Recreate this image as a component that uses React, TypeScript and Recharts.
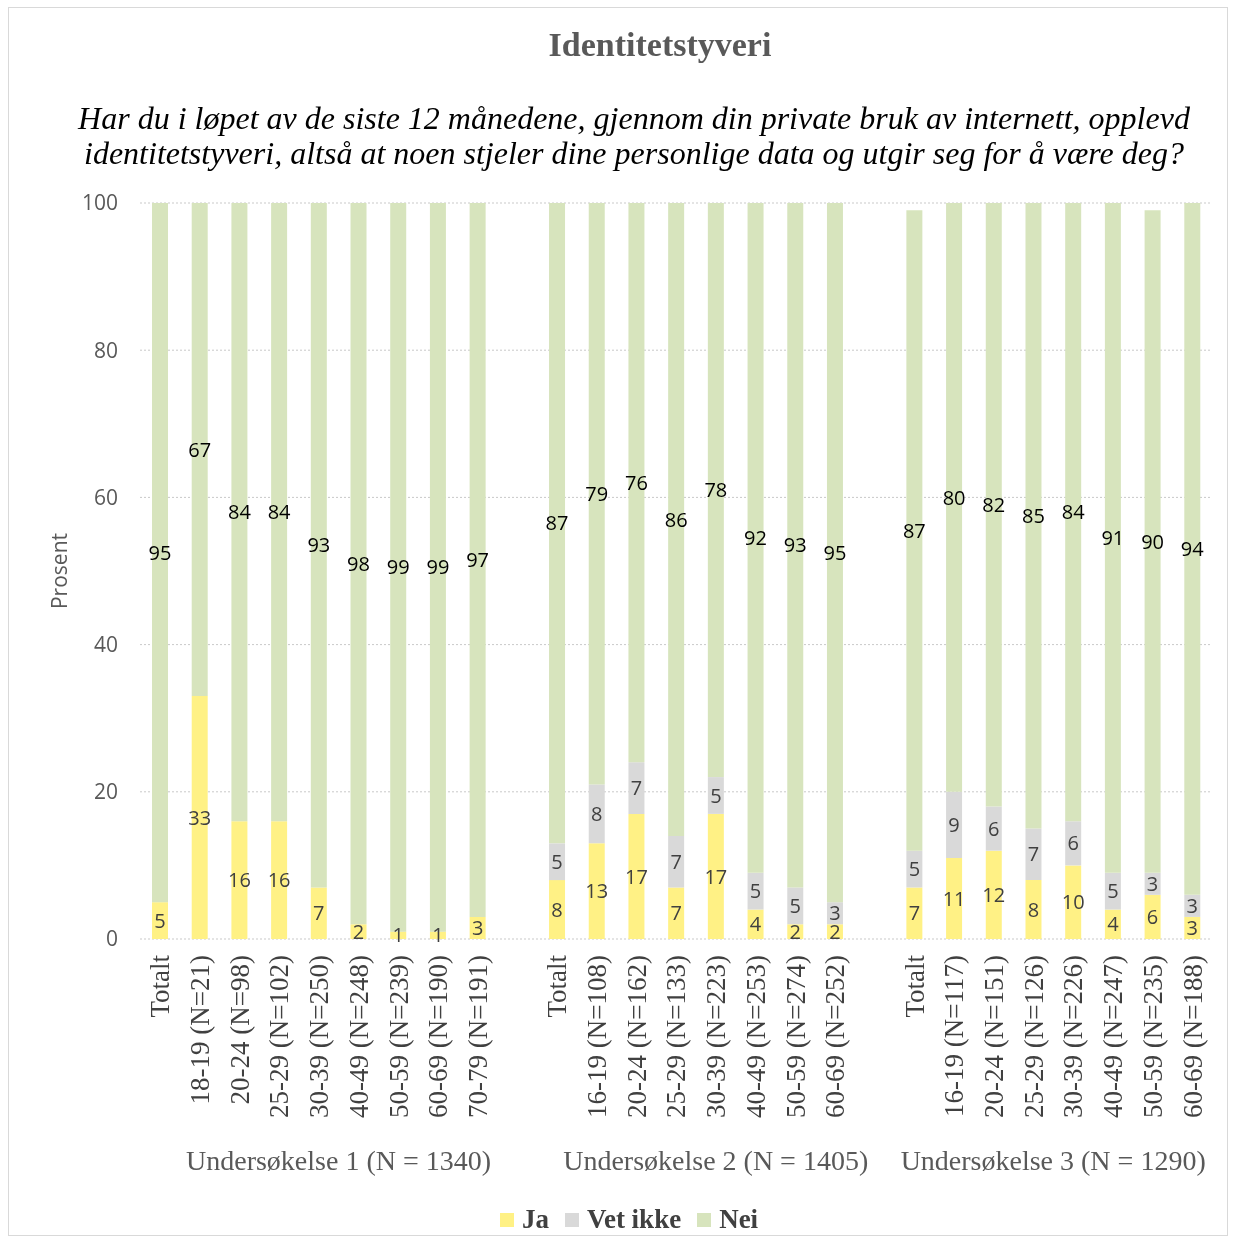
import React from 'react';
import { BarChart, Bar, XAxis, YAxis, CartesianGrid, LabelList, Legend } from 'recharts';

const categories = [
  'Totalt', '18-19 (N=21)', '20-24 (N=98)', '25-29 (N=102)', '30-39 (N=250)', '40-49 (N=248)', '50-59 (N=239)', '60-69 (N=190)', '70-79 (N=191)',
  '',
  'Totalt', '16-19 (N=108)', '20-24 (N=162)', '25-29 (N=133)', '30-39 (N=223)', '40-49 (N=253)', '50-59 (N=274)', '60-69 (N=252)',
  '',
  'Totalt', '16-19 (N=117)', '20-24 (N=151)', '25-29 (N=126)', '30-39 (N=226)', '40-49 (N=247)', '50-59 (N=235)', '60-69 (N=188)',
];

const jaValues = [5, 33, 16, 16, 7, 2, 1, 1, 3, null, 8, 13, 17, 7, 17, 4, 2, 2, null, 7, 11, 12, 8, 10, 4, 6, 3];
const vetIkkeValues = [null, null, null, null, null, null, null, null, null, null, 5, 8, 7, 7, 5, 5, 5, 3, null, 5, 9, 6, 7, 6, 5, 3, 3];
const neiValues = [95, 67, 84, 84, 93, 98, 99, 99, 97, null, 87, 79, 76, 86, 78, 92, 93, 95, null, 87, 80, 82, 85, 84, 91, 90, 94];

const seriesNames = ['Ja', 'Vet ikke', 'Nei'];

const groups = [
  { name: 'Undersøkelse 1 (N = 1340)', start: 0, span: 10 },
  { name: 'Undersøkelse 2 (N = 1405)', start: 10, span: 9 },
  { name: 'Undersøkelse 3 (N = 1290)', start: 19, span: 8 },
];

const yTicks = [0, 20, 40, 60, 80, 100];

const data = categories.map((c, i) => ({
  id: `c${i}`,
  label: c,
  Ja: jaValues[i],
  VetIkke: vetIkkeValues[i],
  Nei: neiValues[i],
}));

const W = 1237;
const H = 1239;
const X_AXIS_H = 300;
const M = { top: 203, right: 25, bottom: 0, left: 0 };
const Y_AXIS_W = 140;
const PLOT_W = W - M.left - M.right - Y_AXIS_W;
const STEP = PLOT_W / categories.length;

const SERIF = '"Liberation Serif", "DejaVu Serif", serif';
const SANS = '"Open Sans", "Noto Sans", sans-serif';

function XTick(props: any) {
  const { x, y, payload } = props;
  const i = payload?.index ?? props.index;
  const label = categories[i];
  const grp = groups.find((g) => g.start === i);
  return (
    <g>
      {label ? (
        <text
          transform={`translate(${x},${y}) rotate(-90)`}
          textAnchor="end"
          dy="0.35em"
          fontFamily={SERIF}
          fontSize={27}
          fill="#404040"
        >
          {label}
        </text>
      ) : null}
      {grp ? (
        <text
          x={x + ((grp.span - 1) / 2) * STEP}
          y={y + 205}
          textAnchor="middle"
          dominantBaseline="central"
          fontFamily={SERIF}
          fontSize={28}
          fill="#595959"
        >
          {grp.name}
        </text>
      ) : null}
    </g>
  );
}

const fmt = (v: any) => (v === null || v === undefined || v === 0 ? '' : v);

function LegendContent(props: any) {
  const payload = [...(props.payload || [])].sort(
    (a: any, b: any) => seriesNames.indexOf(a.value) - seriesNames.indexOf(b.value)
  );
  return (
    <div style={{ display: 'flex', justifyContent: 'center', alignItems: 'center', gap: 16 }}>
      {payload.map((p: any) => (
        <div key={p.value} style={{ display: 'flex', alignItems: 'center', gap: 8 }}>
          <span style={{ display: 'inline-block', width: 14, height: 14, background: p.color }} />
          <span style={{ fontFamily: SERIF, fontWeight: 'bold', fontSize: 27, color: '#404040' }}>{p.value}</span>
        </div>
      ))}
    </div>
  );
}

export default function App() {
  return (
    <div style={{ position: 'fixed', left: 0, top: 0, width: W, height: H, background: '#fff' }}>
      <div
        style={{
          position: 'absolute',
          left: 8,
          top: 7,
          width: 1220,
          height: 1229,
          border: '1px solid #d9d9d9',
          boxSizing: 'border-box',
        }}
      />
      <div
        style={{
          position: 'absolute',
          left: 0,
          width: 1320,
          top: 25,
          textAlign: 'center',
          fontFamily: SERIF,
          fontWeight: 'bold',
          fontSize: 34,
          color: '#595959',
          lineHeight: '40px',
        }}
      >
        Identitetstyveri
      </div>
      <div
        style={{
          position: 'absolute',
          left: 0,
          width: 1268,
          top: 101,
          textAlign: 'center',
          fontFamily: SERIF,
          fontStyle: 'italic',
          fontSize: 32,
          color: '#000',
          lineHeight: '35px',
        }}
      >
        Har du i løpet av de siste 12 månedene, gjennom din private bruk av internett, opplevd
        <br />
        identitetstyveri, altså at noen stjeler dine personlige data og utgir seg for å være deg?
      </div>
      <div style={{ position: 'absolute', left: 0, top: 0 }}>
        <BarChart width={W} height={H} data={data} margin={M} barSize={16}>
          <CartesianGrid vertical={false} stroke="#c9c9c9" strokeDasharray="2 2" />
          <XAxis
            dataKey="id"
            interval={0}
            tick={<XTick />}
            tickLine={false}
            axisLine={false}
            tickMargin={10}
            height={X_AXIS_H}
          />
          <YAxis
            width={Y_AXIS_W}
            domain={[0, 100]}
            allowDataOverflow
            ticks={yTicks}
            tickLine={false}
            axisLine={false}
            tickMargin={16}
            tick={{ fill: '#595959', fontSize: 21, fontFamily: SANS }}
            label={{
              value: 'Prosent',
              angle: -90,
              position: 'center',
              dx: -10,
              fill: '#595959',
              fontSize: 21,
              fontFamily: SANS,
            }}
          />
          <Legend
            verticalAlign="middle"
            align="center"
            content={<LegendContent />}
            wrapperStyle={{ top: 1204, left: 0, width: 1258 }}
          />
          <Bar dataKey="Ja" name="Ja" stackId="s" fill="#FFF185" isAnimationActive={false}>
            <LabelList dataKey="Ja" position="center" formatter={fmt} fill="#404040" fontSize={20} fontFamily={SANS} />
          </Bar>
          <Bar dataKey="VetIkke" name="Vet ikke" stackId="s" fill="#D9D9D9" isAnimationActive={false}>
            <LabelList dataKey="VetIkke" position="center" formatter={fmt} fill="#404040" fontSize={20} fontFamily={SANS} />
          </Bar>
          <Bar dataKey="Nei" name="Nei" stackId="s" fill="#D7E4BD" isAnimationActive={false}>
            <LabelList dataKey="Nei" position="center" formatter={fmt} fill="#000" fontSize={20} fontFamily={SANS} />
          </Bar>
        </BarChart>
      </div>
    </div>
  );
}
